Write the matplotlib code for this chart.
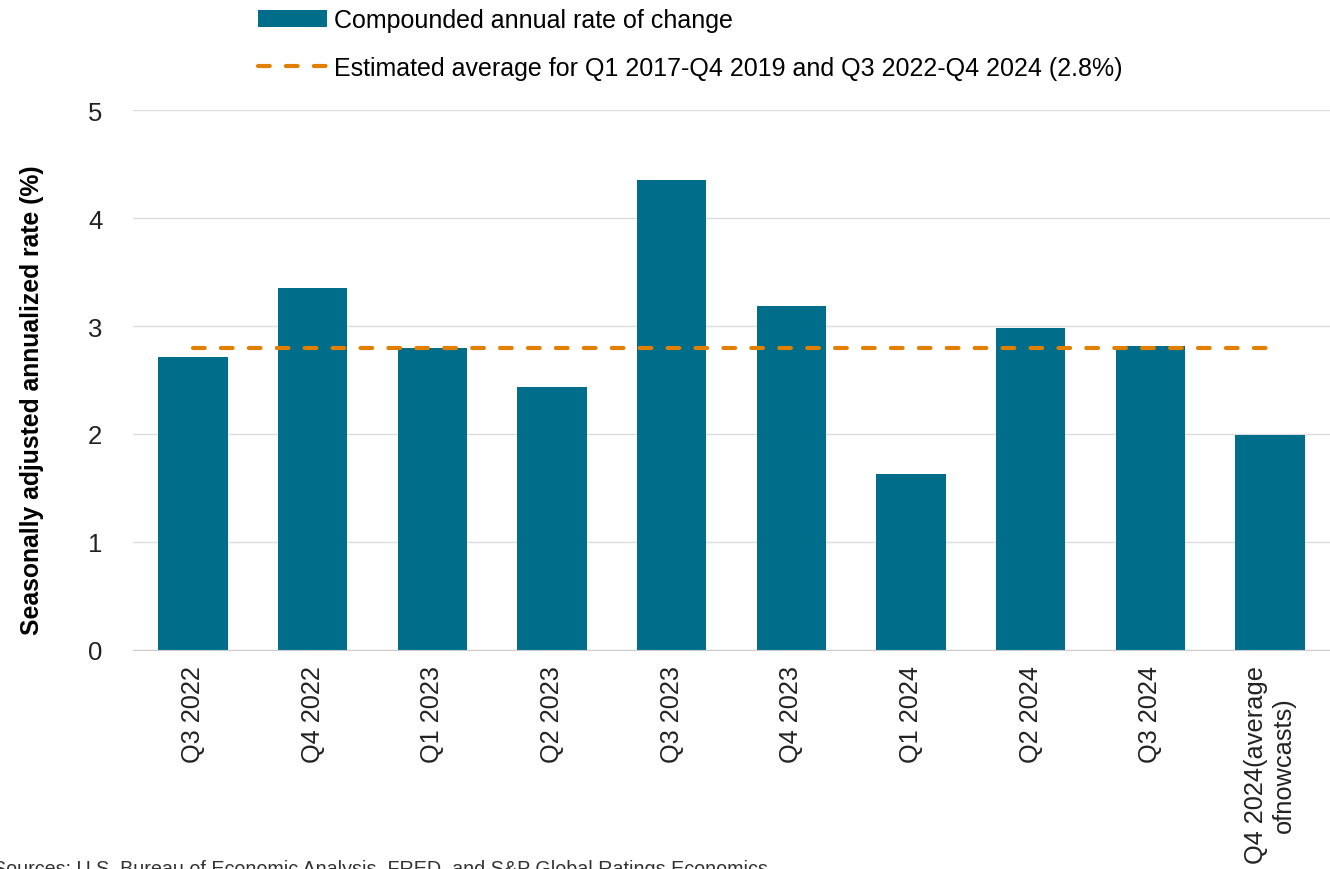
import matplotlib.pyplot as plt
import numpy as np

plt.rcParams['font.family'] = ['Liberation Sans', 'DejaVu Sans']

quarters = ['Q3 2022', 'Q4 2022', 'Q1 2023', 'Q2 2023', 'Q3 2023', 'Q4 2023',
            'Q1 2024', 'Q2 2024', 'Q3 2024', 'Q4 2024(average\nofnowcasts)']
rate = [2.71, 3.35, 2.80, 2.44, 4.35, 3.19, 1.63, 2.98, 2.82, 1.99]
avg_value = 2.8

bar_color = '#006E8A'
line_color = '#E07F00'

fig = plt.figure(figsize=(13.3, 8.7), dpi=100)
ax = fig.add_axes([0.1, 0.252, 0.9, 0.62])

x = np.arange(len(quarters))
bars = ax.bar(x, rate, width=0.58, color=bar_color, zorder=2,
              label='Compounded annual rate of change')
line, = ax.plot([x[0], x[-1]], [avg_value, avg_value], color=line_color, linewidth=3,
                linestyle=(0, (2.8, 3.9)), dash_capstyle='round', zorder=3,
                label='Estimated average for Q1 2017-Q4 2019 and Q3 2022-Q4 2024 (2.8%)')

ax.set_xlim(-0.5, len(quarters) - 0.5)
ax.set_ylim(0, 5)
ax.set_yticks([0, 1, 2, 3, 4, 5])
ax.set_xticks(x)
ax.set_xticklabels(quarters, rotation=90, fontsize=18.3, color='#222222')
ax.tick_params(axis='y', labelsize=18.5, length=0, pad=22, labelcolor='#222222')
ax.tick_params(axis='x', length=0, pad=11)
ax.grid(axis='y', color='#dddddd', linewidth=1, zorder=0)
for s in ['top', 'right', 'left']:
    ax.spines[s].set_visible(False)
ax.spines['bottom'].set_color('#cccccc')

ax.set_ylabel('Seasonally adjusted annualized rate (%)', fontsize=17.8,
              fontweight='bold')
ax.yaxis.set_label_coords(-0.074, 0.465)

fig.legend(handles=[bars, line], loc='upper left',
           bbox_to_anchor=(258 / 1330, 1 - 9 / 870),
           frameon=False, fontsize=18, handlelength=2.75, handletextpad=0.3,
           labelspacing=0.95, borderaxespad=0, borderpad=0)

fig.text(-0.005, 0.0, 'Sources: U.S. Bureau of Economic Analysis, FRED, and S&P Global Ratings Economics.',
         fontsize=14.2, color='#333333', va='center')

fig.savefig('out.png', dpi=100)
